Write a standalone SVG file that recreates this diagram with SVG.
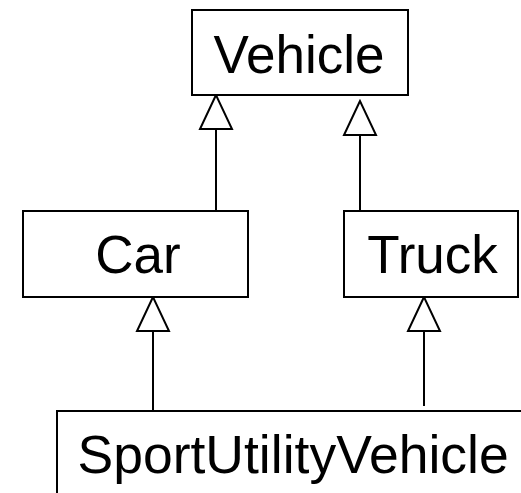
<svg xmlns="http://www.w3.org/2000/svg" width="521" height="493" viewBox="0 0 521 493">
  <style>
    .box { fill: #ffffff; stroke: #000000; stroke-width: 2; }
    .label { font-family: "Liberation Sans", Arial, Helvetica, sans-serif; font-size: 53px; fill: #000000; }
    .edge { stroke: #000000; stroke-width: 2; fill: none; marker-end: url(#inherit); }
  </style>
  <defs>
    <!-- hollow triangle head for generalization -->
    <marker id="inherit" markerUnits="userSpaceOnUse" viewBox="-36 -18 38 36" markerWidth="38" markerHeight="36" refX="0" refY="0" orient="auto" overflow="visible">
      <path d="M0,0 L-34,-16 L-34,16 Z" fill="#ffffff" stroke="#000000" stroke-width="2" stroke-linejoin="miter"/>
    </marker>
  </defs>
  <rect width="521" height="493" fill="#ffffff"/>

  <g id="connectors">
    <line class="edge" x1="216" y1="210" x2="216" y2="95"/>
    <line class="edge" x1="360" y1="210" x2="360" y2="101"/>
    <line class="edge" x1="153" y1="410" x2="153" y2="297"/>
    <line class="edge" x1="424" y1="406" x2="424" y2="297"/>
  </g>

  <g id="vehicle">
    <rect class="box" x="192" y="10" width="216" height="85"/>
    <text class="label" x="299" y="73" text-anchor="middle">Vehicle</text>
  </g>

  <g id="car">
    <rect class="box" x="23" y="211" width="225" height="86"/>
    <text class="label" x="138" y="273" text-anchor="middle">Car</text>
  </g>

  <g id="truck">
    <rect class="box" x="344" y="211" width="174" height="86"/>
    <text class="label" x="432.5" y="273" text-anchor="middle">Truck</text>
  </g>

  <g id="sportutilityvehicle">
    <rect class="box" x="57" y="411" width="480" height="100"/>
    <text class="label" x="77.5" y="473" style="font-size:53.5px">SportUtilityVehicle</text>
  </g>
</svg>
